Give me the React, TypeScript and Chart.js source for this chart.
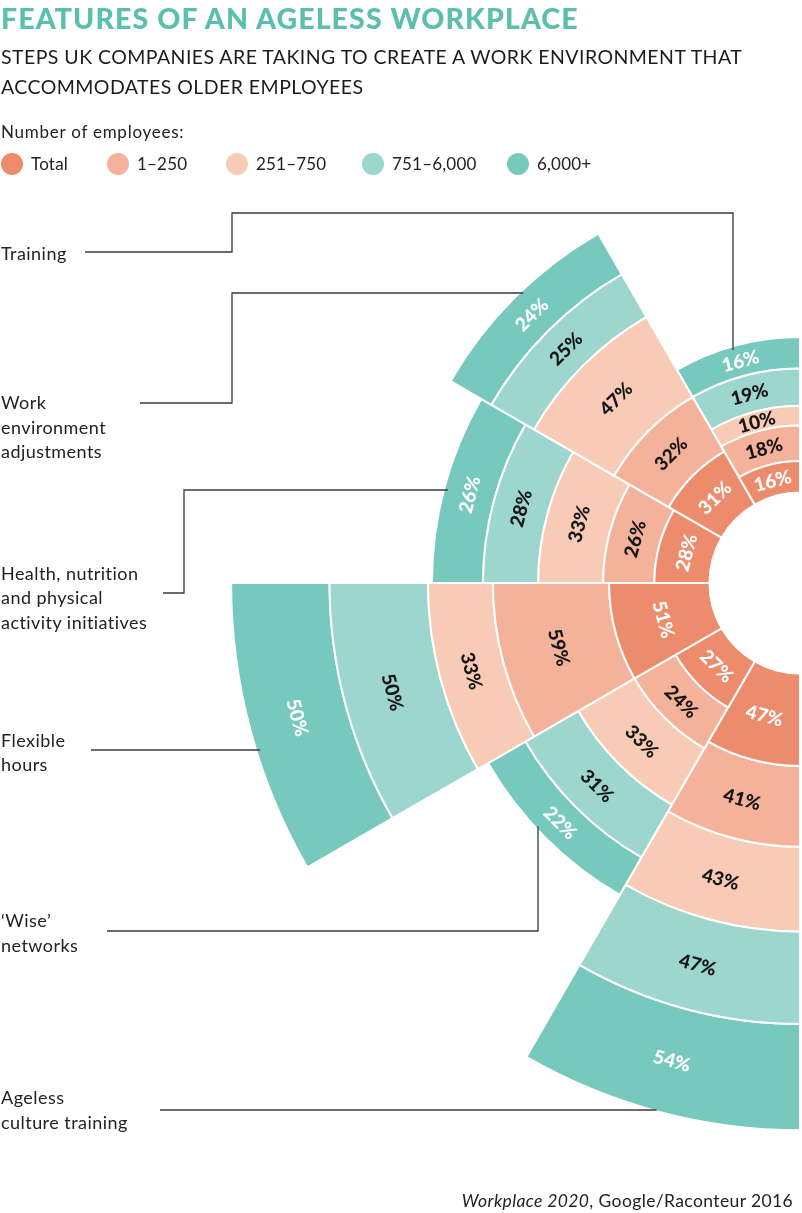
import React, { useEffect, useRef } from "react";
import { Chart, registerables } from "chart.js";

Chart.register(...registerables);

// ---- data (categories listed top to bottom as in the graphic) ----
const categories = [
  "Training",
  "Work environment adjustments",
  "Health, nutrition and physical activity initiatives",
  "Flexible hours",
  "\u2018Wise\u2019 networks",
  "Ageless culture training",
];
const categoryLines = [
  ["Training"],
  ["Work", "environment", "adjustments"],
  ["Health, nutrition", "and physical", "activity initiatives"],
  ["Flexible", "hours"],
  ["\u2018Wise\u2019", "networks"],
  ["Ageless", "culture training"],
];
const seriesNames = ["Total", "1\u2013250", "251\u2013750", "751\u20136,000", "6,000+"];
const totalValues = [16, 31, 28, 51, 27, 47];
const emp1to250 = [18, 32, 26, 59, 24, 41];
const emp251to750 = [10, 47, 33, 33, 33, 43];
const emp751to6000 = [19, 25, 28, 50, 31, 47];
const emp6000plus = [16, 24, 26, 50, 22, 54];

// ---- styles ----
const seriesColors = ["#ED8B6D", "#F4B29B", "#F8CBB7", "#9CD6CF", "#78C9BD"];
const labelColors = ["#ffffff", "#161616", "#161616", "#161616", "#ffffff"];
const TEAL = "#5BBFAD";
const FONT = "Lato, 'Open Sans', sans-serif";

// label block positions and leader lines (page px)
const labelTops = [241, 390, 560.5, 727.5, 908, 1085];
// leader polylines; the last segment runs into the sector's outer edge
const leaders: { pts: [number, number][]; end: "h" | "vUp" | "vDown" }[] = [
  { pts: [[85, 252], [232, 252], [232, 213], [733, 213]], end: "vDown" },
  { pts: [[140, 403], [232, 403], [232, 293]], end: "h" },
  { pts: [[163, 593], [184, 593], [184, 490]], end: "h" },
  { pts: [[91, 750]], end: "h" },
  { pts: [[107, 931], [538, 931]], end: "vUp" },
  { pts: [[160, 1110]], end: "h" },
];

const seriesValues = [totalValues, emp1to250, emp251to750, emp751to6000, emp6000plus];

const ringPlugin = {
  id: "stackedRings",
  afterDatasetsUpdate(chart: any) {
    const scale = chart.scales.r;
    const n = chart.data.datasets.length;
    for (let i = 0; i < n; i++) {
      const meta = chart.getDatasetMeta(i);
      meta.data.forEach((arc: any, j: number) => {
        arc.innerRadius =
          i === 0 ? scale.getDistanceFromCenterForValue(0) : chart.getDatasetMeta(i - 1).data[j].outerRadius;
      });
    }
  },
};

const valueLabelPlugin = {
  id: "valueLabels",
  afterDatasetsDraw(chart: any) {
    const ctx = chart.ctx;
    const n = chart.data.datasets.length;
    ctx.save();
    ctx.font = `900 19px ${FONT}`;
    ctx.textAlign = "center";
    ctx.textBaseline = "middle";
    for (let i = 0; i < n; i++) {
      const meta = chart.getDatasetMeta(i);
      const raw = chart.data.datasets[i].rawValues as number[];
      meta.data.forEach((arc: any, j: number) => {
        const mid = (arc.startAngle + arc.endAngle) / 2;
        const r = (arc.innerRadius + arc.outerRadius) / 2;
        const x = arc.x + Math.cos(mid) * r;
        const y = arc.y + Math.sin(mid) * r;
        let rot = mid - Math.PI / 2;
        if (rot > Math.PI / 2) rot -= Math.PI;
        ctx.save();
        ctx.translate(x, y);
        ctx.rotate(rot);
        ctx.fillStyle = labelColors[i];
        ctx.fillText(`${raw[j]}%`, 0, 1);
        ctx.restore();
      });
    }
    ctx.restore();
  },
};

const leaderPlugin = {
  id: "leaders",
  afterDraw(chart: any) {
    const ctx = chart.ctx;
    const n = chart.data.datasets.length;
    const outerMeta = chart.getDatasetMeta(n - 1);
    const cats = categories.length;
    ctx.save();
    ctx.strokeStyle = "#3a3a3a";
    ctx.lineWidth = 1.3;
    leaders.forEach((ld, k) => {
      const arc = outerMeta.data[cats - 1 - k];
      const R = arc.outerRadius;
      const cx = arc.x;
      const cy = arc.y;
      const last = ld.pts[ld.pts.length - 1];
      let endX = last[0];
      let endY = last[1];
      if (ld.end === "h") {
        endX = cx - Math.sqrt(Math.max(R * R - (last[1] - cy) ** 2, 0)) + 4;
      } else if (ld.end === "vDown") {
        endY = cy - Math.sqrt(Math.max(R * R - (last[0] - cx) ** 2, 0)) + 4;
      } else {
        endY = cy + Math.sqrt(Math.max(R * R - (last[0] - cx) ** 2, 0)) - 4;
      }
      ctx.beginPath();
      ld.pts.forEach((p, idx) => (idx === 0 ? ctx.moveTo(p[0], p[1]) : ctx.lineTo(p[0], p[1])));
      ctx.lineTo(endX, endY);
      ctx.stroke();
    });
    ctx.restore();
  },
};

function ChartCanvas() {
  const ref = useRef<HTMLCanvasElement | null>(null);
  useEffect(() => {
    if (!ref.current) return;
    // chart goes clockwise from the bottom, so feed categories bottom-to-top
    const rev = (a: number[]) => a.slice().reverse();
    const cumulative: number[][] = [];
    seriesValues.forEach((vals, i) => {
      const r = rev(vals);
      cumulative.push(r.map((v, j) => v + (i > 0 ? cumulative[i - 1][j] : 0)));
    });
    const chart = new Chart(ref.current, {
      type: "polarArea",
      data: {
        labels: categories.slice().reverse(),
        datasets: seriesNames.map((name, i) => ({
          label: name,
          data: cumulative[i],
          rawValues: rev(seriesValues[i]),
          backgroundColor: seriesColors[i],
          borderColor: "#ffffff",
          borderWidth: 2,
          angle: 30,
          clip: false,
        })) as any,
      },
      options: {
        responsive: false,
        animation: false,
        devicePixelRatio: 1,
        events: [],
        layout: { padding: { left: 300, top: 83, right: 0, bottom: 130 } },
        plugins: { legend: { display: false }, tooltip: { enabled: false } },
        scales: {
          r: { display: false, min: -46, max: 208, startAngle: 180 } as any,
        },
      } as any,
      plugins: [ringPlugin, valueLabelPlugin, leaderPlugin],
    });
    return () => chart.destroy();
  }, []);
  return (
    <canvas
      ref={ref}
      width={1300}
      height={1213}
      style={{ position: "absolute", left: 0, top: 0, width: 1300, height: 1213 }}
    />
  );
}

export default function App() {
  const abs = (s: React.CSSProperties): React.CSSProperties => ({ position: "absolute", margin: 0, ...s });
  const legendX = [1, 107, 226, 362, 507];
  return (
    <div
      style={{
        position: "absolute",
        left: 0,
        top: 0,
        width: 802,
        height: 1213,
        overflow: "hidden",
        background: "#ffffff",
        fontFamily: FONT,
        color: "#222",
      }}
    >
      <ChartCanvas />
      <div style={abs({ left: 1, top: 3.7, fontSize: 28.5, lineHeight: "28.5px", fontWeight: 900, color: TEAL, letterSpacing: 1.1, whiteSpace: "nowrap" })}>
        FEATURES OF AN AGELESS WORKPLACE
      </div>
      <div style={abs({ left: 1, top: 41.5, fontSize: 19.5, lineHeight: "30px", letterSpacing: 0.45, whiteSpace: "nowrap", color: "#1c1c1c" })}>
        STEPS UK COMPANIES ARE TAKING TO CREATE A WORK ENVIRONMENT THAT
        <br />
        ACCOMMODATES OLDER EMPLOYEES
      </div>
      <div style={abs({ left: 1, top: 123.3, fontSize: 17, lineHeight: "17px", letterSpacing: 0.75, whiteSpace: "nowrap" })}>
        Number of employees:
      </div>
      {seriesNames.map((name, i) => (
        <div key={name} style={abs({ left: legendX[i], top: 153, height: 22, display: "flex", alignItems: "center", whiteSpace: "nowrap" })}>
          <span style={{ width: 22, height: 22, borderRadius: 11, background: seriesColors[i], display: "inline-block" }} />
          <span style={{ marginLeft: 8, fontSize: 17, lineHeight: "22px", letterSpacing: 0.2 }}>{name}</span>
        </div>
      ))}
      {categoryLines.map((lines, k) => (
        <div key={k} style={abs({ left: 1, top: labelTops[k], fontSize: 18, lineHeight: "24.5px", letterSpacing: 0.45, whiteSpace: "nowrap" })}>
          {lines.map((l, m) => (
            <div key={m}>{l}</div>
          ))}
        </div>
      ))}
      <div style={abs({ right: 9, top: 1192, fontSize: 17.5, lineHeight: "17.5px", letterSpacing: 0.38, whiteSpace: "nowrap" })}>
        <i>Workplace 2020</i>, Google/Raconteur 2016
      </div>
    </div>
  );
}
